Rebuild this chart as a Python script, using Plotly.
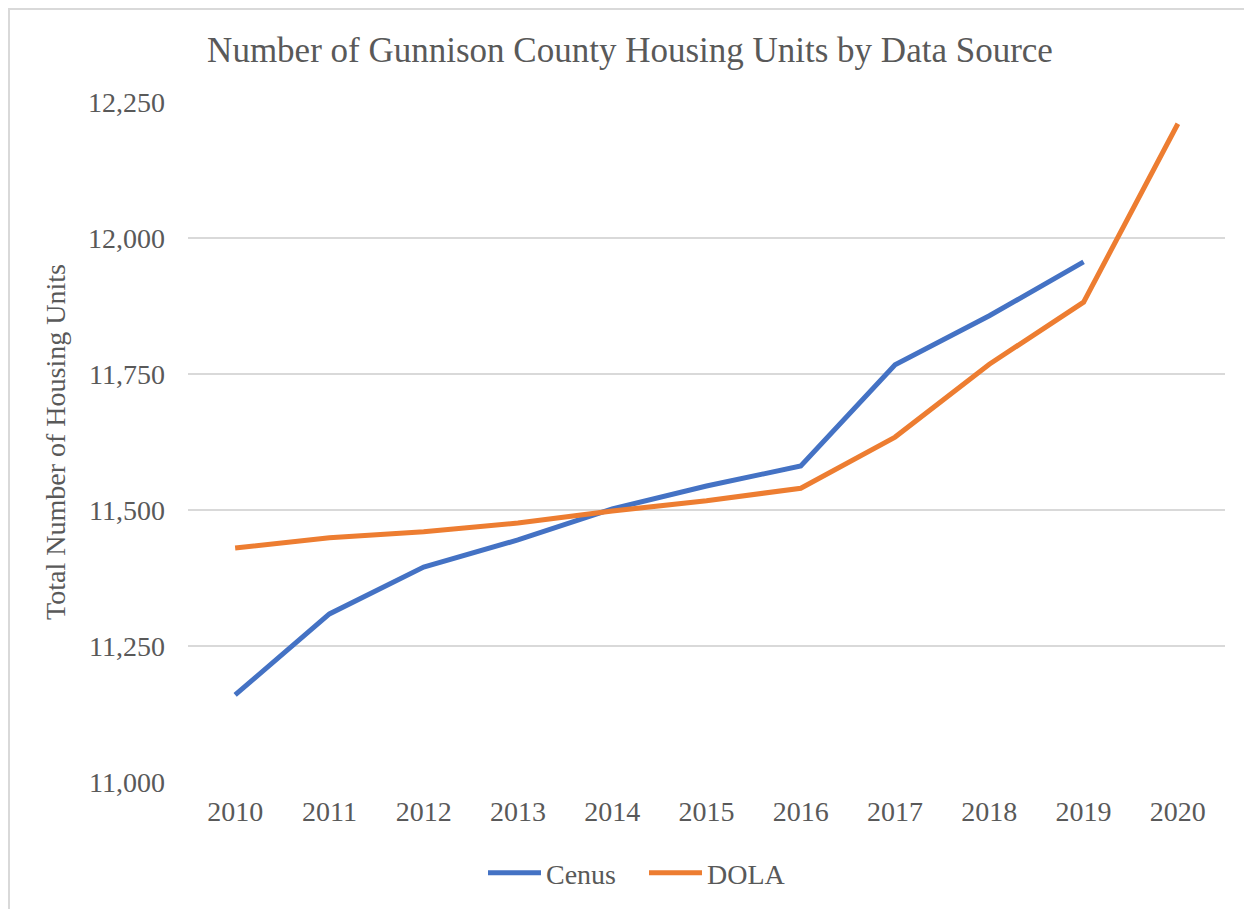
import plotly.graph_objects as go

years = [2010, 2011, 2012, 2013, 2014, 2015, 2016, 2017, 2018, 2019, 2020]
census_years = [2010, 2011, 2012, 2013, 2014, 2015, 2016, 2017, 2018, 2019]
census = [11160, 11309, 11395, 11445, 11502, 11544, 11581, 11767, 11857, 11956]
dola = [11430, 11449, 11460, 11476, 11498, 11517, 11540, 11634, 11768, 11882, 12210]
y_ticks = [11000, 11250, 11500, 11750, 12000, 12250]
y_tick_text = ["11,000", "11,250", "11,500", "11,750", "12,000", "12,250"]

FONT = "Liberation Serif, Times New Roman, serif"
TXT = "#595959"

fig = go.Figure()
fig.add_trace(go.Scatter(x=census_years, y=census, mode="lines", name="Cenus",
                         line=dict(color="#4472C4", width=5)))
fig.add_trace(go.Scatter(x=years, y=dola, mode="lines", name="DOLA",
                         line=dict(color="#ED7D31", width=5)))

# page offset of the figure (body margin)
OFF = 8
W, H = 1252, 909
L, R, T, B = 188 - OFF, 27 + OFF, 102 - OFF, 127 + OFF
pw, ph = W - L - R, H - T - B

fig.update_layout(
    width=W, height=H,
    margin=dict(l=L, r=R, t=T, b=B),
    paper_bgcolor="white", plot_bgcolor="white",
    font=dict(family=FONT, color=TXT, size=28),
    title=dict(text="Number of Gunnison County Housing Units by Data Source",
               x=(630 - OFF) / W, xanchor="center", y=1 - (50 - OFF) / H, yanchor="middle",
               font=dict(size=35, color=TXT, family=FONT)),
    xaxis=dict(range=[2009.5, 2020.5], tickvals=years, ticktext=[str(y) for y in years],
               showgrid=False, zeroline=False, showline=False, ticks="",
               tickfont=dict(size=28), ticklabelstandoff=10),
    yaxis=dict(range=[11000, 12250], tickvals=y_ticks, ticktext=y_tick_text,
               showgrid=True, gridcolor="#D9D9D9", gridwidth=1.5, zeroline=False,
               showline=False, ticks="", tickfont=dict(size=28), ticklabelstandoff=22,
               title=dict(text="Total Number of Housing Units", font=dict(size=28), standoff=14)),
    legend=dict(orientation="h", x=(644 - OFF - L) / pw, xanchor="center",
                y=-(873 - OFF - (T + ph)) / ph, yanchor="middle",
                font=dict(size=28), itemwidth=53, entrywidth=93, entrywidthmode="pixels",
                bgcolor="rgba(0,0,0,0)"),
    showlegend=True,
)

# light chart border (top and left edges visible)
fig.add_shape(type="rect", xref="paper", yref="paper",
              x0=(-L + 1) / pw, x1=(W + 5 - L) / pw,
              y0=-(H + 5 - (T + ph)) / ph, y1=1 + (T - 1) / ph,
              line=dict(color="#D9D9D9", width=2), layer="below")

fig.write_html("out.html")
